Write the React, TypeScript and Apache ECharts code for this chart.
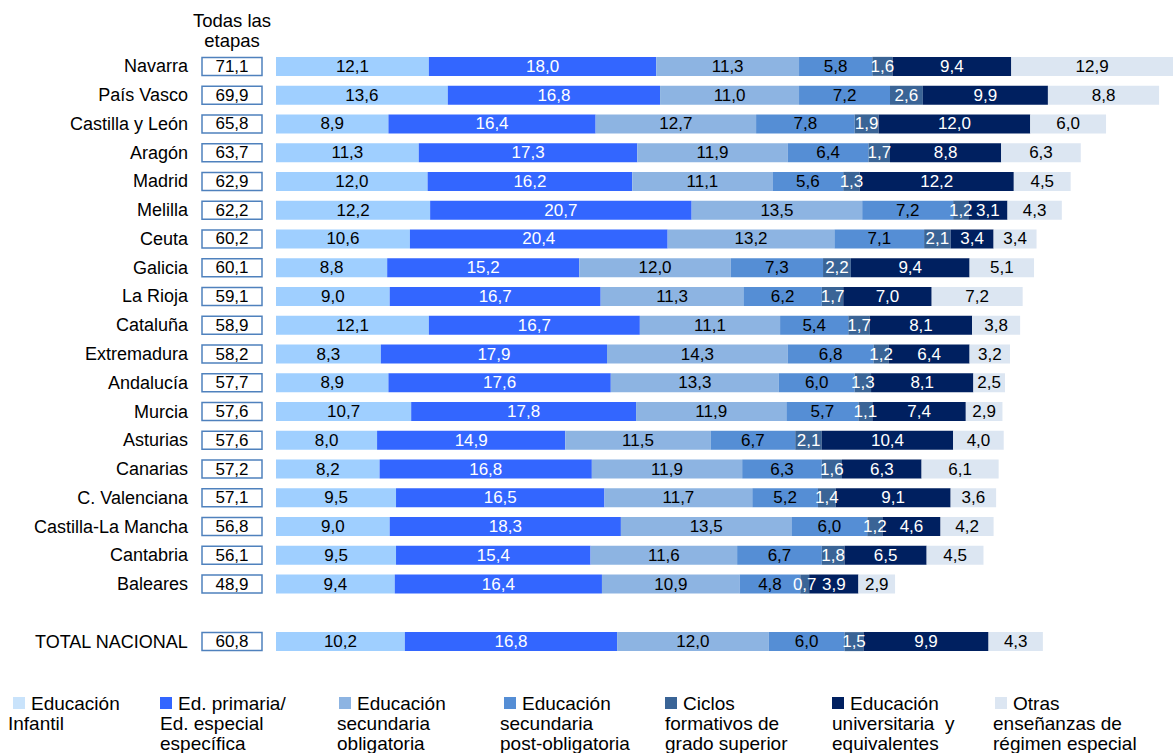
import React, { useEffect, useRef } from "react";
import * as echarts from "echarts";

const regions = [
  "Navarra", "País Vasco", "Castilla y León", "Aragón", "Madrid", "Melilla", "Ceuta",
  "Galicia", "La Rioja", "Cataluña", "Extremadura", "Andalucía", "Murcia", "Asturias",
  "Canarias", "C. Valenciana", "Castilla-La Mancha", "Cantabria", "Baleares", "", "TOTAL NACIONAL",
];
const totals = [
  71.1, 69.9, 65.8, 63.7, 62.9, 62.2, 60.2, 60.1, 59.1, 58.9, 58.2, 57.7, 57.6, 57.6,
  57.2, 57.1, 56.8, 56.1, 48.9, null, 60.8,
];
const infantil = [12.1, 13.6, 8.9, 11.3, 12.0, 12.2, 10.6, 8.8, 9.0, 12.1, 8.3, 8.9, 10.7, 8.0, 8.2, 9.5, 9.0, 9.5, 9.4, null, 10.2];
const primaria = [18.0, 16.8, 16.4, 17.3, 16.2, 20.7, 20.4, 15.2, 16.7, 16.7, 17.9, 17.6, 17.8, 14.9, 16.8, 16.5, 18.3, 15.4, 16.4, null, 16.8];
const secObl = [11.3, 11.0, 12.7, 11.9, 11.1, 13.5, 13.2, 12.0, 11.3, 11.1, 14.3, 13.3, 11.9, 11.5, 11.9, 11.7, 13.5, 11.6, 10.9, null, 12.0];
const secPost = [5.8, 7.2, 7.8, 6.4, 5.6, 7.2, 7.1, 7.3, 6.2, 5.4, 6.8, 6.0, 5.7, 6.7, 6.3, 5.2, 6.0, 6.7, 4.8, null, 6.0];
const ciclos = [1.6, 2.6, 1.9, 1.7, 1.3, 1.2, 2.1, 2.2, 1.7, 1.7, 1.2, 1.3, 1.1, 2.1, 1.6, 1.4, 1.2, 1.8, 0.7, null, 1.5];
const univ = [9.4, 9.9, 12.0, 8.8, 12.2, 3.1, 3.4, 9.4, 7.0, 8.1, 6.4, 8.1, 7.4, 10.4, 6.3, 9.1, 4.6, 6.5, 3.9, null, 9.9];
const otras = [12.9, 8.8, 6.0, 6.3, 4.5, 4.3, 3.4, 5.1, 7.2, 3.8, 3.2, 2.5, 2.9, 4.0, 6.1, 3.6, 4.2, 4.5, 2.9, null, 4.3];

const legendLines = [
  ["Educación", "Infantil"],
  ["Ed. primaria/", "Ed. especial", "específica"],
  ["Educación", "secundaria", "obligatoria"],
  ["Educación", "secundaria", "post-obligatoria"],
  ["Ciclos", "formativos de", "grado superior"],
  ["Educación", "universitaria  y", "equivalentes"],
  ["Otras", "enseñanzas de", "régimen especial"],
];
const seriesData = [infantil, primaria, secObl, secPost, ciclos, univ, otras];
const colors = ["#9FCFFF", "#3366FF", "#8DB4E2", "#558ED5", "#3A6496", "#002060", "#DCE6F2"];
const iconColors = ["#C9E3FB", "#3366FF", "#8DB4E2", "#558ED5", "#3A6496", "#002060", "#DCE6F2"];
const labelColors = ["#000", "#fff", "#000", "#000", "#fff", "#fff", "#000"];

const FONT = "'Liberation Sans', Arial, sans-serif";
const fmt = (v: number) => v.toFixed(1).replace(".", ",");

export default function App() {
  const ref = useRef<HTMLDivElement>(null);
  useEffect(() => {
    if (!ref.current) return;
    const chart = echarts.init(ref.current, null, { renderer: "svg" });

    const iconX = [13, 160, 339, 504, 665, 832, 995];
    const lineX = [8, 160, 337, 500, 665, 832, 993];
    const graphics: any[] = [
      {
        type: "text",
        x: 232,
        y: 20,
        style: {
          text: "Todas las",
          font: `18.5px ${FONT}`,
          fill: "#000",
          align: "center",
          verticalAlign: "middle",
        },
      },
      {
        type: "text",
        x: 232,
        y: 40,
        style: {
          text: "etapas",
          font: `18.5px ${FONT}`,
          fill: "#000",
          align: "center",
          verticalAlign: "middle",
        },
      },
    ];
    legendLines.forEach((lines, i) => {
      graphics.push({
        type: "rect",
        shape: { x: iconX[i], y: 697, width: 12, height: 12 },
        style: { fill: iconColors[i] },
      });
      lines.forEach((ln, j) => {
        graphics.push({
          type: "text",
          x: j === 0 ? iconX[i] + 18 : lineX[i],
          y: 703 + j * 20,
          style: {
            text: ln,
            font: `19px ${FONT}`,
            fill: "#000",
            verticalAlign: "middle",
          },
        });
      });
    });

    chart.setOption({
      animation: false,
      textStyle: { fontFamily: FONT },
      grid: { left: 276, width: 897, top: 52, height: 604 },
      xAxis: {
        type: "value",
        min: 0,
        max: 71,
        show: false,
      },
      yAxis: {
        type: "category",
        data: regions,
        inverse: true,
        axisLine: { show: false },
        axisTick: { show: false },
        axisLabel: {
          margin: 14,
          formatter: (value: string, idx: number) =>
            value ? `{n|${value}}{b|${fmt(totals[idx] as number)}}` : "",
          rich: {
            n: { fontSize: 18, fontFamily: FONT, color: "#000", padding: [0, 14, 0, 0] },
            b: {
              fontSize: 17,
              fontFamily: FONT,
              color: "#000",
              width: 60,
              height: 18,
              lineHeight: 18,
              align: "center",
              borderColor: "#4F81BD",
              borderWidth: 1.5,
            },
          },
        },
      },
      graphic: graphics,
      series: seriesData.map((d, i) => ({
        name: legendLines[i].join(" "),
        type: "bar",
        stack: "total",
        barWidth: 19,
        data: d,
        itemStyle: { color: colors[i] },
        label: {
          show: true,
          position: "inside",
          color: labelColors[i],
          fontSize: 17,
          fontFamily: FONT,
          formatter: (p: any) => (p.value == null ? "" : fmt(p.value)),
        },
      })),
    });
    return () => chart.dispose();
  }, []);
  return (
    <div
      ref={ref}
      style={{ position: "fixed", left: 0, top: 0, width: 1173, height: 753, background: "#fff" }}
    />
  );
}
